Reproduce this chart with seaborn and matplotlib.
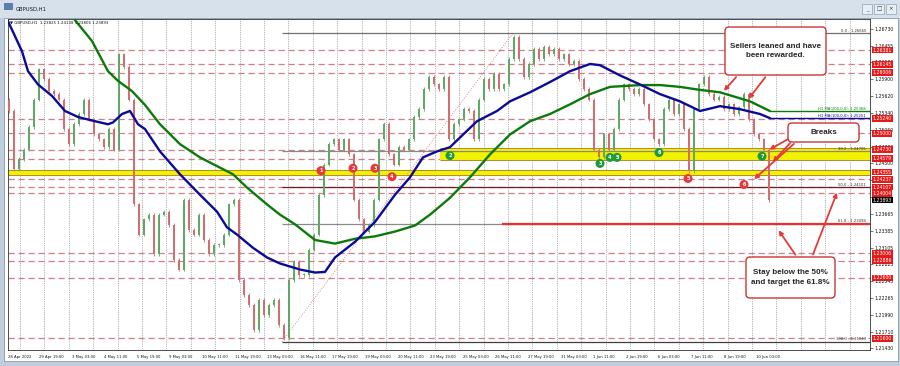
import numpy as np
import pandas as pd
import matplotlib
matplotlib.use("Agg")
import matplotlib.pyplot as plt
import seaborn as sns
from matplotlib.patches import FancyBboxPatch, Rectangle, FancyArrowPatch
from matplotlib.transforms import IdentityTransform

# ---------------- data ----------------
symbol = "GBPUSD,H1"
info_values = "1.23825 1.24138 1.23806 1.23893"
first_open = 1.2556
closes = [1.2537, 1.2440, 1.2457, 1.2473, 1.2510, 1.2556, 1.2606, 1.2590, 1.2570, 1.2565,
          1.2556, 1.2507, 1.2482, 1.2515, 1.2532, 1.2556, 1.2523, 1.2498, 1.2490, 1.2477,
          1.2507, 1.2473, 1.2631, 1.2610, 1.2556, 1.2382, 1.2332, 1.2357, 1.2365, 1.2299,
          1.2365, 1.2370, 1.2348, 1.2290, 1.2274, 1.2390, 1.2340, 1.2332, 1.2365, 1.2323,
          1.2299, 1.2315, 1.2315, 1.2332, 1.2382, 1.2390, 1.2257, 1.2232, 1.2215, 1.2174,
          1.2224, 1.2199, 1.2215, 1.2224, 1.2182, 1.2160, 1.2257, 1.2287, 1.2265, 1.2265,
          1.2307, 1.2332, 1.2398, 1.2448, 1.2482, 1.2490, 1.2473, 1.2490, 1.2465, 1.2390,
          1.2357, 1.2337, 1.2348, 1.2390, 1.2490, 1.2515, 1.2465, 1.2448, 1.2477, 1.2473,
          1.2490, 1.2527, 1.2540, 1.2573, 1.2593, 1.2581, 1.2573, 1.2593, 1.2490, 1.2515,
          1.2523, 1.2540, 1.2537, 1.2490, 1.2556, 1.2590, 1.2573, 1.2598, 1.2573, 1.2581,
          1.2623, 1.2660, 1.2623, 1.2593, 1.2615, 1.2640, 1.2623, 1.2643, 1.2631, 1.2640,
          1.2623, 1.2631, 1.2615, 1.2620, 1.2590, 1.2573, 1.2556, 1.2473, 1.2460, 1.2498,
          1.2473, 1.2507, 1.2556, 1.2581, 1.2573, 1.2565, 1.2573, 1.2548, 1.2523, 1.2490,
          1.2482, 1.2540, 1.2556, 1.2532, 1.2548, 1.2507, 1.2437, 1.2540, 1.2581, 1.2593,
          1.2565, 1.2556, 1.2560, 1.2540, 1.2548, 1.2532, 1.2543, 1.2565, 1.2523, 1.2498,
          1.2490, 1.2473, 1.23893]

blue_ma_hours = [-1, 13, 19, 29, 43, 56, 69, 86, 99, 104, 113, 121, 129, 136, 151, 171, 191, 208, 218, 228,
                 244, 258, 271, 291, 306, 316, 326, 346, 366, 386, 401, 414, 428, 441, 451, 468, 488, 501, 521, 541,
                 561, 581, 591, 611, 631, 651, 671, 691, 711, 731, 751, 761]
blue_ma = [1.2686, 1.2636, 1.2603, 1.2581, 1.2562, 1.2537, 1.2527, 1.2520, 1.2515, 1.2518,
           1.2532, 1.2537, 1.2515, 1.2507, 1.2470, 1.2432, 1.2398, 1.2370, 1.2344, 1.2332,
           1.2310, 1.2294, 1.2284, 1.2274, 1.2269, 1.2270, 1.2294, 1.2320, 1.2353, 1.2398,
           1.2427, 1.2460, 1.2470, 1.2477, 1.2493, 1.2520, 1.2537, 1.2553, 1.2568, 1.2585,
           1.2603, 1.2615, 1.2613, 1.2596, 1.2581, 1.2565, 1.2553, 1.2537, 1.2545, 1.2540,
           1.2532, 1.25251]
green_ma_hours = [61, 83, 99, 109, 123, 136, 151, 171, 191, 211, 224, 238, 258, 271, 286, 306, 326, 346, 366, 386,
                  406, 421, 441, 461, 481, 501, 521, 541, 561, 581, 601, 631, 651, 671, 691, 711, 741, 761]
green_ma = [1.2698, 1.2653, 1.2603, 1.2587, 1.2570, 1.2547, 1.2515, 1.2482, 1.2460, 1.2443,
            1.2432, 1.2410, 1.2382, 1.2365, 1.2349, 1.2323, 1.2317, 1.2325, 1.2329, 1.2337,
            1.2347, 1.2365, 1.2393, 1.2427, 1.2465, 1.2498, 1.2520, 1.2532, 1.2548, 1.2565,
            1.2577, 1.2580, 1.2580, 1.2577, 1.2572, 1.2568, 1.2553, 1.25368]
ma200_last = 1.25368
ma100_last = 1.25251

level_prices = [1.26381, 1.26145, 1.26006, 1.25240, 1.25000, 1.24730, 1.24579, 1.24355,
                1.24237, 1.24107, 1.24004, 1.23006, 1.22886, 1.22600, 1.21600]
price_ticks = [1.26730, 1.26455, 1.26180, 1.25900, 1.25620, 1.25340, 1.25060, 1.24780, 1.24500, 1.24225,
               1.23945, 1.23665, 1.23385, 1.23105, 1.22825, 1.22545, 1.22265, 1.21990, 1.21710, 1.21430]
last_price = 1.23893

time_labels = ["28 Apr 2022", "29 Apr 19:00", "3 May 03:00", "4 May 11:00", "5 May 19:00", "9 May 03:00",
               "10 May 11:00", "11 May 19:00", "13 May 03:00", "16 May 11:00", "17 May 19:00", "19 May 03:00",
               "20 May 11:00", "23 May 19:00", "25 May 03:00", "26 May 11:00", "27 May 19:00", "31 May 03:00",
               "1 Jun 11:00", "2 Jun 19:00", "6 Jun 03:00", "7 Jun 11:00", "8 Jun 19:00", "10 Jun 03:00"]
time_label_hours = [-1, 30, 63, 95, 128, 160, 193, 226, 258, 291, 323, 356, 389, 421, 454, 486, 519, 552,
                    584, 617, 649, 682, 715, 747]

fib_pcts = ["0.0", "38.2", "50.0", "61.8", "100.0"]
fib_prices = [1.26660, 1.24705, 1.24101, 1.23498, 1.21543]
fib_low_hour, fib_high_hour = 273, 504
target_line_price = 1.23498
target_line_start = 493

upper_zone = (1.24560, 1.24750)
upper_zone_start = 431
lower_zone = (1.24310, 1.24390)

red_marks = ["1", "2", "3", "4", "5", "6"]
red_mark_hours = [312, 344, 366, 383, 679, 735]
red_mark_prices = [1.2438, 1.2442, 1.2442, 1.2428, 1.2425, 1.2415]
green_marks = ["2", "3", "4", "5", "6", "7"]
green_mark_hours = [441, 591, 601, 608, 650, 753]
green_mark_prices = [1.2463, 1.2450, 1.2460, 1.2460, 1.2468, 1.2462]

# ---------------- figure ----------------
sns.set_theme(style="white")
plt.rcParams['font.family'] = ['DejaVu Sans']
W, H = 900, 366
fig = plt.figure(figsize=(9, 3.66), dpi=100)
fig.patch.set_facecolor('#bfcddc')

def px(x, y):  # top-left pixel -> display coords
    return (x, H - y)

# window body (white) and title bar
fig.add_artist(Rectangle(px(4, 361), 894, 343, transform=IdentityTransform(),
                         fc='white', ec='#8a9bb0', lw=0.6, zorder=0))
fig.add_artist(Rectangle(px(0, 18), 900, 18, transform=IdentityTransform(),
                         fc='#d7e1ec', ec='none', zorder=0))
fig.add_artist(Rectangle(px(4, 9), 8, 6, transform=IdentityTransform(),
                         fc='#5a7fb0', ec='#34507a', lw=0.4, zorder=1))
fig.text(16 / W, 1 - 9 / H, symbol, fontsize=3.8, va='center', ha='left', color='#1a1a1a')
for i, sym in enumerate(["_", "\u25a1", "\u00d7"]):
    x0 = 862 + i * 12
    fig.add_artist(Rectangle(px(x0, 14), 10, 10, transform=IdentityTransform(),
                             fc='#e8eef5', ec='#8090a8', lw=0.4, zorder=1))
    fig.text((x0 + 5) / W, 1 - 9 / H, sym, fontsize=4, ha='center', va='center', color='#333')

ax = fig.add_axes([8 / W, (H - 350) / H, 862 / W, 331 / H])
ax.set_facecolor('white')
ax.set_xlim(-1, 861)
ax.set_ylim(1.21405, 1.26896)

# vertical dotted grid
for gx in np.arange(11, 861, 24.4):
    ax.axvline(gx, color='#707070', lw=0.5, ls=(0, (1, 1.6)), zorder=1)

# dashed levels
for lp in level_prices:
    ax.axhline(lp, color='#cf7f85', lw=0.9, ls=(0, (5, 3)), zorder=2)

# yellow zones
ax.axhspan(lower_zone[0], lower_zone[1], color='#f2f200', zorder=2.2, lw=0)
ax.axhline(lower_zone[0], color='#b08a30', lw=0.7, zorder=2.3)
ax.axhline(lower_zone[1], color='#b08a30', lw=0.7, zorder=2.3)
ax.fill_between([upper_zone_start, 861], upper_zone[0], upper_zone[1], color='#f2f200', zorder=2.2, lw=0)
ax.hlines([upper_zone[0], upper_zone[1]], upper_zone_start, 861, color='#b08a30', lw=0.7, zorder=2.3)

# fibonacci
ax.plot([fib_low_hour, fib_high_hour], [fib_prices[-1], fib_prices[0]], color='#d98a8a',
        lw=0.7, ls=(0, (1, 1.5)), zorder=2.5)
fib_cols = ['#707070', '#8a8a8a', '#6a1f1f', '#8a8a8a', '#404040']
for pct, fp, fc in zip(fib_pcts, fib_prices, fib_cols):
    ax.hlines(fp, fib_low_hour, 861, color=fc, lw=0.9, zorder=2.6)
    ax.text(857, fp + 0.00006, f"{pct} - {fp:.5f}", fontsize=2.7, ha='right', va='bottom',
            color='#333333', zorder=6)
ax.hlines(target_line_price, target_line_start, 861, color='#e83030', lw=1.6, zorder=3)

# candles
opens = [first_open] + closes[:-1]
hours = np.arange(len(closes)) * 5
df = pd.DataFrame({'hour': hours, 'open': opens, 'close': closes})
df['hi'] = df[['open', 'close']].max(axis=1) + 0.0003
df['lo'] = df[['open', 'close']].min(axis=1) - 0.0003
df['up'] = df['close'] >= df['open']
cols = np.where(df['up'], '#62a865', '#d46e6e')
ax.vlines(df['hour'], df['lo'], df['hi'], colors=cols, lw=0.6, zorder=4)
ax.bar(df['hour'], (df['close'] - df['open']).abs().clip(lower=0.00008),
       bottom=df[['open', 'close']].min(axis=1), width=2.6, color=cols, zorder=4.1, lw=0)

# moving averages (seaborn)
sns.lineplot(x=green_ma_hours, y=green_ma, color='#0b7a0b', lw=1.7, ax=ax, zorder=5, sort=False)
sns.lineplot(x=blue_ma_hours, y=blue_ma, color='#0a0a9a', lw=1.7, ax=ax, zorder=5, sort=False)
ax.hlines(ma200_last, green_ma_hours[-1], 861, color='#0b7a0b', lw=1.0, zorder=5)
ax.hlines(ma100_last, blue_ma_hours[-1], 861, color='#0a0a9a', lw=1.0, zorder=5)
ax.text(857, ma200_last + 0.00005, f"H1 MA(200,0,0): {ma200_last:.5f}", fontsize=2.7,
        color='#0b7a0b', ha='right', va='bottom', zorder=6)
ax.text(857, ma100_last + 0.00005, f"H1 MA(100,0,0): {ma100_last:.5f}", fontsize=2.7,
        color='#0a0a9a', ha='right', va='bottom', zorder=6)

# numbered markers
sns.scatterplot(x=red_mark_hours, y=red_mark_prices, s=42, color='#e8383c', edgecolor='none',
                ax=ax, zorder=7, legend=False)
for t, hx, hy in zip(red_marks, red_mark_hours, red_mark_prices):
    ax.text(hx, hy, t, color='white', fontsize=3.6, fontweight='bold', ha='center', va='center', zorder=8)
sns.scatterplot(x=green_mark_hours, y=green_mark_prices, s=42, color='#1f9a3a', edgecolor='none',
                ax=ax, zorder=7, legend=False)
for t, hx, hy in zip(green_marks, green_mark_hours, green_mark_prices):
    ax.text(hx, hy, t, color='white', fontsize=3.6, fontweight='bold', ha='center', va='center', zorder=8)

# axes cosmetics
for s in ax.spines.values():
    s.set_color('#303030')
    s.set_linewidth(0.6)
ax.yaxis.tick_right()
ax.set_yticks(price_ticks)
ax.set_yticklabels([f"{p:.5f}" for p in price_ticks])
ax.tick_params(axis='y', labelsize=3.3, length=2, width=0.4, pad=1.5, colors='#111111')
ax.set_xticks(time_label_hours)
ax.set_xticklabels(time_labels)
ax.tick_params(axis='x', labelsize=2.7, length=2, width=0.4, pad=1.5, colors='#111111')
for lab in ax.get_xticklabels():
    lab.set_ha('left')
ax.set_xlabel('')
ax.set_ylabel('')

# price-axis labels for levels
ytr = ax.get_yaxis_transform()
for lp in level_prices:
    ax.text(1.003, lp, f"{lp:.5f}", transform=ytr, fontsize=3.3, color='white', ha='left', va='center',
            bbox=dict(boxstyle='square,pad=0.18', fc='#e41b1b', ec='none'), zorder=9, clip_on=False)
ax.text(1.003, last_price, f"{last_price:.5f}", transform=ytr, fontsize=3.3, color='white', ha='left',
        va='center', bbox=dict(boxstyle='square,pad=0.18', fc='#000000', ec='none'), zorder=9, clip_on=False)

# info line
fig.text(10 / W, 1 - 23 / H, "\u25bc " + symbol + "  " + info_values, fontsize=2.8, ha='left',
         va='center', color='#111111')

# annotation boxes
def box(x0, y0, x1, y1, text):
    fig.add_artist(FancyBboxPatch(px(x0, y1), x1 - x0, y1 - y0, boxstyle="round,pad=0,rounding_size=4",
                                  transform=IdentityTransform(), fc='white', ec='#cc3535', lw=1.0, zorder=20))
    fig.text((x0 + x1) / 2 / W, 1 - (y0 + y1) / 2 / H, text, fontsize=5.8, fontweight='bold',
             family='Liberation Sans', ha='center', va='center', linespacing=1.5, zorder=21)

def arrow(x0, y0, x1, y1):
    fig.add_artist(FancyArrowPatch(px(x0, y0), px(x1, y1), transform=IdentityTransform(),
                                   arrowstyle='-|>', mutation_scale=6, color='#e53a3a', lw=1.3, zorder=19))

box(725, 27, 826, 75, "Sellers leaned and have\nbeen rewarded.")
arrow(738, 75, 722, 93)
arrow(767, 75, 747, 101)
box(788, 123, 859, 142, "Breaks")
arrow(790, 138, 767, 151)
arrow(792, 141, 771, 164)
arrow(796, 142, 752, 181)
box(746, 257, 835, 298, "Stay below the 50%\nand target the 61.8%")
arrow(797, 257, 777, 228)
arrow(812, 257, 838, 190)

fig.savefig("out.png", dpi=100, facecolor=fig.get_facecolor())
